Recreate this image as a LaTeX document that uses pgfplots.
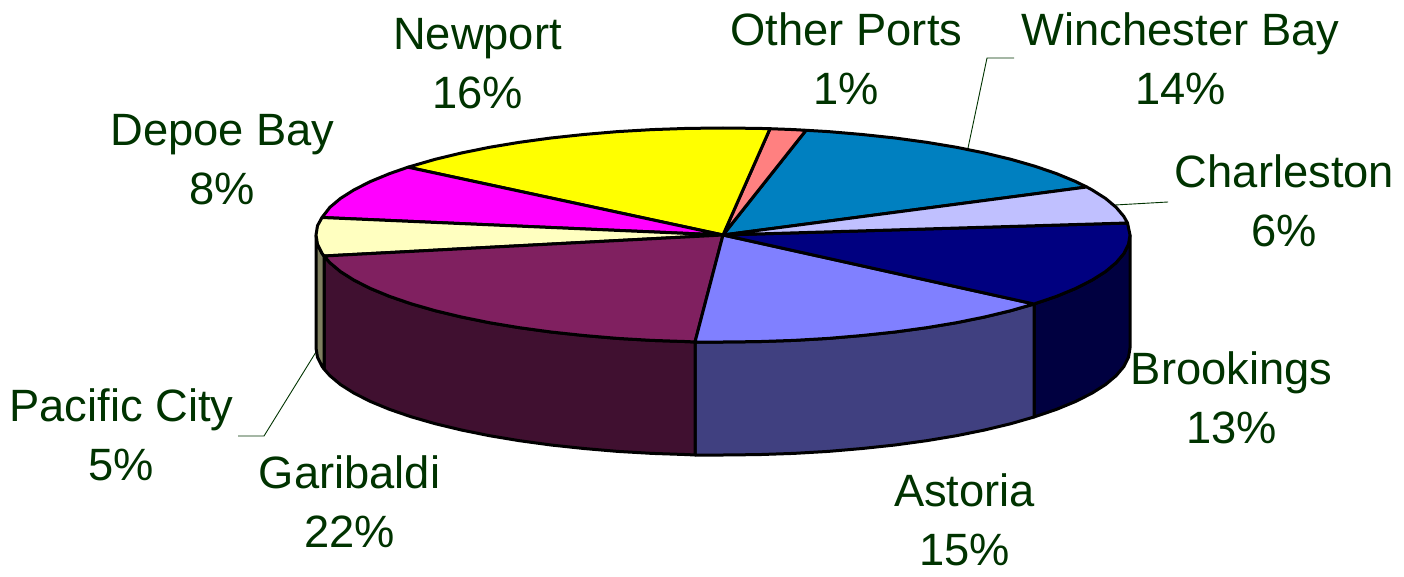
\documentclass[border=0pt]{standalone}
\usepackage{fontspec}
\setmainfont{Liberation Sans}
\usepackage{pgfplots}
\pgfplotsset{compat=1.18}
\definecolor{lbl}{HTML}{003300}
\definecolor{cWin}{HTML}{0080C0}
\definecolor{cOther}{HTML}{FF8080}
\definecolor{cNew}{HTML}{FFFF00}
\definecolor{cDep}{HTML}{FF00FF}
\definecolor{cPac}{HTML}{FFFFC0}
\definecolor{cGar}{HTML}{802060}
\definecolor{cAst}{HTML}{8080FF}
\definecolor{cBro}{HTML}{000080}
\definecolor{cCha}{HTML}{C0C0FF}
\definecolor{sPac}{HTML}{808060}
\definecolor{sGar}{HTML}{401030}
\definecolor{sAst}{HTML}{404080}
\definecolor{sBro}{HTML}{000040}
\tikzset{
  slice/.style={draw=black, fill=#1, line width=3pt, line join=round},
  leader/.style={draw=lbl, line width=0.9pt},
  lab/.style={align=center, text=lbl, inner sep=0pt, font=\fontsize{45.3}{59}\selectfont},
}
\begin{document}
\begin{tikzpicture}
\begin{axis}[
    axis lines=none,
    scale only axis,
    width=1404pt, height=577pt,
    xmin=0, xmax=1404,
    ymin=0, ymax=577,
    y dir=reverse,
    clip=false,
    no markers,
]
% keep the full frame in the bounding box
\path (axis cs:0,0) rectangle (axis cs:1404,577);
% leader lines
\addplot[leader] coordinates {(1014,58)(987,58)(968,148)};
\addplot[leader] coordinates {(1168,202)(1115,205)};
\addplot[leader] coordinates {(238,436)(264,436)(316,352)};
% sides
\addplot[slice=sBro] coordinates {(1034,304)(1056.4,296.4)(1075.5,288.5)(1091.9,280.2)(1105.5,271.6)(1116.1,262.7)(1123.8,253.6)(1128.5,244.3)(1130,235)
  (1130,348)(1128.5,357.3)(1123.8,366.6)(1116.1,375.7)(1105.5,384.6)(1091.9,393.2)(1075.5,401.5)(1056.4,409.4)(1034,417)(1034,304)};
\addplot[slice=sAst] coordinates {(695,342)(723,342)(758.5,341.6)(793.7,340.4)(828.3,338.4)(862.2,335.5)(895,332)(926.5,327.7)(956.5,322.7)(984.6,317)(1010.8,310.7)(1034,304)
  (1034,417)(1010.8,423.7)(984.6,430)(956.5,435.7)(926.5,440.7)(895,445)(862.2,448.5)(828.3,451.4)(793.7,453.4)(758.5,454.6)(723,455)(695,455)(695,342)};
\addplot[slice=sGar] coordinates {(324,256)(329.9,262.7)(340.5,271.6)(354.1,280.2)(370.5,288.5)(389.6,296.4)(411.2,303.8)(435.2,310.7)(461.4,317)(489.5,322.7)(519.5,327.7)(551,332)(583.8,335.5)(617.7,338.4)(652.3,340.4)(687.5,341.6)(695,342)
  (695,455)(687.5,454.6)(652.3,453.4)(617.7,451.4)(583.8,448.5)(551,445)(519.5,440.7)(489.5,435.7)(461.4,430)(435.2,423.7)(411.2,416.8)(389.6,409.4)(370.5,401.5)(354.1,393.2)(340.5,384.6)(329.9,375.7)(324,369)(324,256)};
\addplot[slice=sPac] coordinates {(316,235)(317.5,244.3)(322.2,253.6)(324,256)(324,369)(322.2,366.6)(317.5,357.3)(316,348)(316,235)};
% top face
\addplot[slice=cWin] coordinates {(723,235)(1086.7,187)(1075.5,181.5)(1056.4,173.6)(1034.8,166.2)(1010.8,159.3)(984.6,153)(956.5,147.3)(926.5,142.3)(895,138)(862.2,134.5)(828.3,131.6)(806,130.3)(723,235)};
\addplot[slice=cOther] coordinates {(723,235)(806,130.3)(793.7,129.6)(770,128.7)(723,235)};
\addplot[slice=cNew] coordinates {(723,235)(770,128.7)(758.5,128.4)(723,128)(687.5,128.4)(652.3,129.6)(617.7,131.6)(583.8,134.5)(551,138)(519.5,142.3)(489.5,147.3)(461.4,153)(435.2,159.3)(408,167.2)(723,235)};
\addplot[slice=cDep] coordinates {(723,235)(408,167.2)(389.6,173.6)(370.5,181.5)(354.1,189.8)(340.5,198.4)(329.9,207.3)(322,217.5)(723,235)};
\addplot[slice=cPac] coordinates {(723,235)(322,217.5)(317.5,225.7)(316,235)(317.5,244.3)(322.2,253.6)(324,256)(723,235)};
\addplot[slice=cGar] coordinates {(723,235)(324,256)(329.9,262.7)(340.5,271.6)(354.1,280.2)(370.5,288.5)(389.6,296.4)(411.2,303.8)(435.2,310.7)(461.4,317)(489.5,322.7)(519.5,327.7)(551,332)(583.8,335.5)(617.7,338.4)(652.3,340.4)(687.5,341.6)(695,342)(723,235)};
\addplot[slice=cAst] coordinates {(723,235)(695,342)(723,342)(758.5,341.6)(793.7,340.4)(828.3,338.4)(862.2,335.5)(895,332)(926.5,327.7)(956.5,322.7)(984.6,317)(1010.8,310.7)(1034,304)(723,235)};
\addplot[slice=cBro] coordinates {(723,235)(1034,304)(1056.4,296.4)(1075.5,288.5)(1091.9,280.2)(1105.5,271.6)(1116.1,262.7)(1123.8,253.6)(1128.5,244.3)(1130,235)(1127.5,223)(723,235)};
\addplot[slice=cCha] coordinates {(723,235)(1127.5,223)(1123.8,216.4)(1116.1,207.3)(1105.5,198.4)(1091.9,189.8)(1086.7,187)(723,235)};
% labels
\node[lab] at (axis cs:477.5,64) {Newport\\16\%};
\node[lab] at (axis cs:846.5,59) {Other Ports\\1\%};
\node[lab] at (axis cs:1180.5,59) {Winchester Bay\\14\%};
\node[lab] at (axis cs:1284.5,201) {Charleston\\6\%};
\node[lab] at (axis cs:1231.5,398) {Brookings\\13\%};
\node[lab] at (axis cs:964.5,520) {Astoria\\15\%};
\node[lab] at (axis cs:349.5,502) {Garibaldi\\22\%};
\node[lab] at (axis cs:121.5,435) {Pacific City\\5\%};
\node[lab] at (axis cs:222.5,160) {Depoe Bay\\8\%};
\end{axis}
\end{tikzpicture}
\end{document}
